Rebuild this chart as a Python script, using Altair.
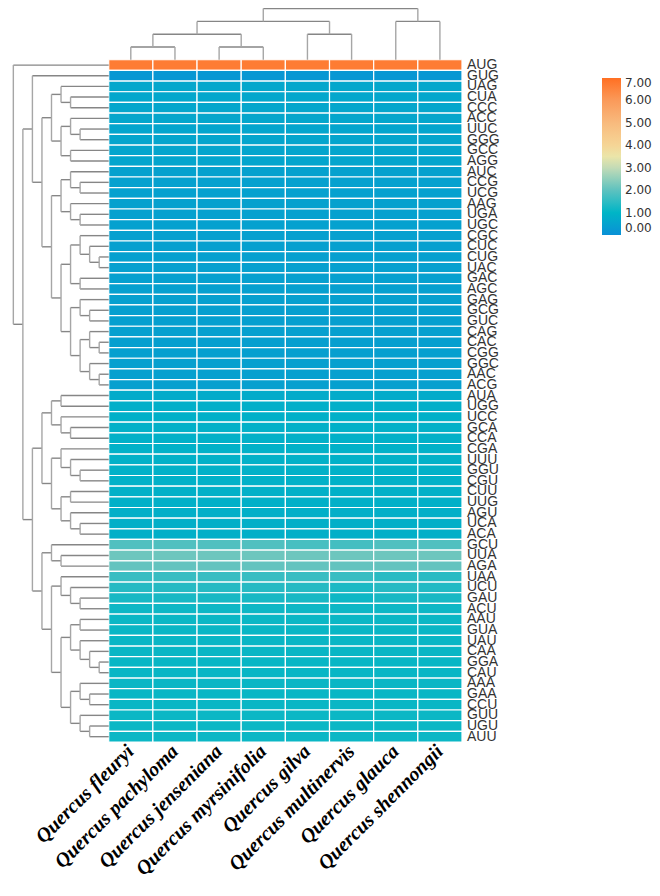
import altair as alt
import pandas as pd

# ---------------- data ----------------
species = ["Quercus fleuryi", "Quercus pachyloma", "Quercus  jenseniana",
           "Quercus myrsinifolia", "Quercus gilva", "Quercus multinervis",
           "Quercus glauca", "Quercus shennongii"]

codons = ["AUG", "GUG", "UAG", "CUA", "CCC", "ACC", "UUC", "GGG", "GCC", "AGG",
          "AUC", "CCG", "UCG", "AAG", "UGA", "UGC", "CGC", "CUC", "CUG", "UAC",
          "GAC", "AGC", "GAG", "GCG", "GUC", "CAG", "CAC", "CGG", "GGC", "AAC",
          "ACG", "AUA", "UGG", "UCC", "GCA", "CCA", "CGA", "UUU", "GGU", "CGU",
          "CUU", "UUG", "AGU", "UCA", "ACA", "GCU", "UUA", "AGA", "UAA", "UCU",
          "GAU", "ACU", "AAU", "GUA", "UAU", "CAA", "GGA", "CAU", "AAA", "GAA",
          "CCU", "GUU", "UGU", "AUU"]

# RSCU-like values, one list of 8 species per codon (row order as above)
values = [
    [6.70, 6.70, 6.70, 6.70, 6.70, 6.70, 6.70, 6.70],  # AUG
    [0.20, 0.20, 0.20, 0.20, 0.20, 0.20, 0.20, 0.20],  # GUG
    [0.62, 0.62, 0.62, 0.62, 0.62, 0.62, 0.62, 0.62],  # UAG
    [0.62, 0.62, 0.62, 0.62, 0.62, 0.62, 0.62, 0.62],  # CUA
    [0.60, 0.60, 0.60, 0.60, 0.60, 0.60, 0.60, 0.60],  # CCC
    [0.60, 0.60, 0.60, 0.60, 0.60, 0.60, 0.60, 0.60],  # ACC
    [0.58, 0.58, 0.58, 0.58, 0.58, 0.58, 0.58, 0.58],  # UUC
    [0.58, 0.58, 0.58, 0.58, 0.58, 0.58, 0.58, 0.58],  # GGG
    [0.56, 0.56, 0.56, 0.56, 0.56, 0.56, 0.56, 0.56],  # GCC
    [0.56, 0.56, 0.56, 0.56, 0.56, 0.56, 0.56, 0.56],  # AGG
    [0.47, 0.47, 0.47, 0.47, 0.47, 0.47, 0.47, 0.47],  # AUC
    [0.46, 0.46, 0.46, 0.46, 0.46, 0.46, 0.46, 0.46],  # CCG
    [0.46, 0.46, 0.46, 0.46, 0.46, 0.46, 0.46, 0.46],  # UCG
    [0.47, 0.47, 0.47, 0.47, 0.47, 0.47, 0.47, 0.47],  # AAG
    [0.46, 0.46, 0.46, 0.46, 0.46, 0.46, 0.46, 0.46],  # UGA
    [0.46, 0.46, 0.46, 0.46, 0.46, 0.46, 0.46, 0.46],  # UGC
    [0.44, 0.44, 0.44, 0.44, 0.44, 0.44, 0.44, 0.44],  # CGC
    [0.43, 0.43, 0.43, 0.43, 0.43, 0.43, 0.43, 0.43],  # CUC
    [0.42, 0.42, 0.42, 0.42, 0.42, 0.42, 0.42, 0.42],  # CUG
    [0.42, 0.42, 0.42, 0.42, 0.42, 0.42, 0.42, 0.42],  # UAC
    [0.43, 0.43, 0.43, 0.43, 0.43, 0.43, 0.43, 0.43],  # GAC
    [0.43, 0.43, 0.43, 0.43, 0.43, 0.43, 0.43, 0.43],  # AGC
    [0.42, 0.42, 0.42, 0.42, 0.42, 0.42, 0.42, 0.42],  # GAG
    [0.41, 0.41, 0.41, 0.41, 0.41, 0.41, 0.41, 0.41],  # GCG
    [0.41, 0.41, 0.41, 0.41, 0.41, 0.41, 0.41, 0.41],  # GUC
    [0.42, 0.42, 0.42, 0.42, 0.42, 0.42, 0.42, 0.42],  # CAG
    [0.41, 0.41, 0.41, 0.41, 0.41, 0.41, 0.41, 0.41],  # CAC
    [0.41, 0.41, 0.41, 0.41, 0.41, 0.41, 0.41, 0.41],  # CGG
    [0.42, 0.42, 0.42, 0.42, 0.42, 0.42, 0.42, 0.42],  # GGC
    [0.42, 0.42, 0.42, 0.42, 0.42, 0.42, 0.42, 0.42],  # AAC
    [0.42, 0.42, 0.42, 0.42, 0.42, 0.42, 0.42, 0.42],  # ACG
    [0.74, 0.74, 0.74, 0.74, 0.74, 0.74, 0.74, 0.74],  # AUA
    [0.84, 0.84, 0.84, 0.84, 0.84, 0.84, 0.84, 0.84],  # UGG
    [0.86, 0.86, 0.86, 0.86, 0.86, 0.86, 0.86, 0.86],  # UCC
    [0.87, 0.87, 0.87, 0.87, 0.87, 0.87, 0.87, 0.87],  # GCA
    [0.87, 0.87, 0.87, 0.87, 0.87, 0.87, 0.87, 0.87],  # CCA
    [0.88, 0.88, 0.88, 0.88, 0.88, 0.88, 0.88, 0.88],  # CGA
    [0.90, 0.90, 0.90, 0.90, 0.90, 0.90, 0.90, 0.90],  # UUU
    [0.88, 0.88, 0.88, 0.88, 0.88, 0.88, 0.88, 0.88],  # GGU
    [0.88, 0.88, 0.88, 0.88, 0.88, 0.88, 0.88, 0.88],  # CGU
    [0.86, 0.86, 0.86, 0.86, 0.86, 0.86, 0.86, 0.86],  # CUU
    [0.86, 0.86, 0.86, 0.86, 0.86, 0.86, 0.86, 0.86],  # UUG
    [0.85, 0.85, 0.85, 0.85, 0.85, 0.85, 0.85, 0.85],  # AGU
    [0.85, 0.85, 0.85, 0.85, 0.85, 0.85, 0.85, 0.85],  # UCA
    [0.85, 0.85, 0.85, 0.85, 0.85, 0.85, 0.85, 0.85],  # ACA
    [1.85, 1.85, 1.85, 1.85, 1.75, 1.72, 1.85, 1.85],  # GCU
    [2.15, 2.15, 2.15, 2.15, 2.15, 2.15, 2.15, 2.15],  # UUA
    [2.05, 2.05, 2.05, 2.05, 2.05, 2.05, 2.05, 2.05],  # AGA
    [1.60, 1.60, 1.60, 1.60, 1.60, 1.60, 1.45, 1.45],  # UAA
    [1.40, 1.40, 1.40, 1.40, 1.40, 1.30, 1.40, 1.35],  # UCU
    [1.25, 1.25, 1.25, 1.25, 1.25, 1.15, 1.25, 1.25],  # GAU
    [1.15, 1.15, 1.15, 1.15, 1.15, 1.15, 1.15, 1.15],  # ACU
    [1.12, 1.12, 1.12, 1.12, 1.12, 1.12, 1.12, 1.12],  # AAU
    [1.10, 1.10, 1.10, 1.10, 1.10, 1.10, 1.10, 1.10],  # GUA
    [1.10, 1.10, 1.10, 1.10, 1.10, 1.10, 1.10, 1.10],  # UAU
    [1.08, 1.08, 1.08, 1.08, 1.08, 1.08, 1.08, 1.08],  # CAA
    [1.08, 1.08, 1.08, 1.08, 1.08, 1.08, 1.08, 1.08],  # GGA
    [1.08, 1.08, 1.08, 1.08, 1.08, 1.08, 1.08, 1.08],  # CAU
    [1.10, 1.10, 1.10, 1.10, 1.10, 1.10, 1.10, 1.10],  # AAA
    [1.10, 1.10, 1.10, 1.10, 1.10, 1.10, 1.10, 1.10],  # GAA
    [1.10, 1.10, 1.10, 1.10, 1.10, 1.10, 1.10, 1.10],  # CCU
    [1.12, 1.12, 1.12, 1.12, 1.12, 1.12, 1.12, 1.12],  # GUU
    [1.12, 1.12, 1.12, 1.12, 1.12, 1.12, 1.12, 1.12],  # UGU
    [1.12, 1.12, 1.12, 1.12, 1.12, 1.12, 1.12, 1.12],  # AUU
]

# clustering trees (topology)
row_tree = ["AUG", [
    ["GUG", [
        [["UAG", ["CUA", "CCC"]], [["ACC", ["UUC", "GGG"]], ["GCC", "AGG"]]],
        [[["AUC", ["CCG", "UCG"]], ["AAG", ["UGA", "UGC"]]],
         [[["CGC", ["CUC", ["CUG", "UAC"]]], ["GAC", "AGC"]],
          [["GAG", ["GCG", "GUC"]],
           [["CAG", ["CAC", "CGG"]], ["GGC", ["AAC", "ACG"]]]]]]]],
    [[[["AUA", "UGG"], ["UCC", ["GCA", "CCA"]]],
      [["CGA", ["UUU", ["GGU", "CGU"]]], [["CUU", "UUG"], ["AGU", ["UCA", "ACA"]]]]],
     [["GCU", ["UUA", "AGA"]],
      [["UAA", ["UCU", ["GAU", "ACU"]]],
       [[["AAU", "GUA"], ["UAU", ["CAA", ["GGA", "CAU"]]]],
        [["AAA", ["GAA", "CCU"]], ["GUU", ["UGU", "AUU"]]]]]]]]]

col_tree = [[[[species[0], species[1]], [species[2], species[3]]],
             [species[4], species[5]]],
            [species[6], species[7]]]

# ---------------- layout constants ----------------
CW = 44.16          # px per column
RH = 10.66          # px per row
W = 452
H = 734
XMIN = 8 - W / CW
YMIN = 64 - H / RH
ROW_LEVELS = 10
COL_LEVELS = 4
ROW_STEP = 2.16 / ROW_LEVELS
COL_STEP = 4.8 / COL_LEVELS


def build(node, depth, leafpos, level, leaf_level, segs):
    if isinstance(node, str):
        return leafpos(node)
    ps = []
    for ch in node:
        ps.append((build(ch, depth + 1, leafpos, level, leaf_level, segs), ch))
    h = level(depth)
    for p, ch in ps:
        hc = leaf_level if isinstance(ch, str) else level(depth + 1)
        segs.append(dict(h=h, h2=hc, p=p, p2=p, kind="branch"))
    segs.append(dict(h=h, h2=h, p=ps[0][0], p2=ps[-1][0], kind="join"))
    return (ps[0][0] + ps[-1][0]) / 2


row_segs = []
build(row_tree, 0, lambda c: codons.index(c) + 0.5,
      lambda d: -(ROW_LEVELS - d) * ROW_STEP, 0.0, row_segs)
col_segs = []
build(col_tree, 0, lambda s: species.index(s) + 0.5,
      lambda d: -(COL_LEVELS - d) * COL_STEP, 0.0, col_segs)

seg_rows = []
for s in row_segs:
    seg_rows.append(dict(x=s["h"], x2=s["h2"], y=s["p"], y2=s["p2"],
                         kind="h" if s["kind"] == "branch" else "v"))
for s in col_segs:
    seg_rows.append(dict(x=s["p"], x2=s["p2"], y=s["h"], y2=s["h2"],
                         kind="v" if s["kind"] == "branch" else "h"))
segs_df = pd.DataFrame(seg_rows)

cells = []
for i, cod in enumerate(codons):
    for j, sp in enumerate(species):
        cells.append(dict(codon=cod, species=sp, r=i, c=j, value=values[i][j]))
cells_df = pd.DataFrame(cells)
rows_df = pd.DataFrame(dict(codon=codons, r=list(range(len(codons)))))
cols_df = pd.DataFrame(dict(species=species, c=list(range(len(species)))))

xscale = alt.Scale(domain=[XMIN, 8], nice=False, zero=False)
yscale = alt.Scale(domain=[YMIN, 64], nice=False, zero=False, reverse=True)

color_scale = alt.Scale(
    domain=[0, 1, 2, 3, 3.5, 4, 5, 6, 7],
    range=["#0a90d6", "#00b5c6", "#5ec2bf", "#c3dbb6", "#ebe5a9",
           "#f5d596", "#f8ba7d", "#fa9a5a", "#ff6f22"],
    interpolate="rgb")

heat = alt.Chart(cells_df).transform_calculate(
    c2="datum.c + 1", r2="datum.r + 1"
).mark_rect(stroke="white", strokeWidth=1.2).encode(
    x=alt.X("c:Q", scale=xscale, axis=None),
    x2="c2:Q",
    y=alt.Y("r:Q", scale=yscale, axis=None),
    y2="r2:Q",
    color=alt.Color("value:Q", scale=color_scale,
                    legend=alt.Legend(orient="none", legendX=592, legendY=70,
                                      direction="vertical", gradientLength=157,
                                      gradientThickness=19,
                                      values=[0, 1, 2, 3, 4, 5, 6, 7],
                                      format=".2f", title=None,
                                      labelFont="DejaVu Sans", labelFontSize=12,
                                      labelColor="#333333", labelOffset=4,
                                      labelOverlap=False, padding=0)),
)


def seg_layer(kind, col):
    return alt.Chart(segs_df).transform_filter(
        alt.datum.kind == kind
    ).mark_rule(color=col, strokeWidth=1.4).encode(
        x=alt.X("x:Q", scale=xscale, axis=None), x2="x2:Q",
        y=alt.Y("y:Q", scale=yscale, axis=None), y2="y2:Q")


hseg = seg_layer("h", "#868686")
vseg = seg_layer("v", "#a6a6a6")

row_labels = alt.Chart(rows_df).transform_calculate(
    rc="datum.r + 0.5", lx="8"
).mark_text(align="left", baseline="middle", font="Liberation Sans",
            fontSize=14, color="#333333", dx=5).encode(
    x=alt.X("lx:Q", scale=xscale, axis=None),
    y=alt.Y("rc:Q", scale=yscale, axis=None),
    text="codon:N")

col_labels = alt.Chart(cols_df).transform_calculate(
    cc="datum.c + 0.5", ly="64.6"
).mark_text(align="right", baseline="middle", font="Liberation Serif",
            fontSize=20, fontStyle="italic", fontWeight="bold",
            color="#000000", angle=315).encode(
    x=alt.X("cc:Q", scale=xscale, axis=None),
    y=alt.Y("ly:Q", scale=yscale, axis=None),
    text="species:N")

chart = alt.layer(heat, hseg, vseg, row_labels, col_labels).properties(
    width=W, height=H,
    padding={"left": 2, "top": 0, "right": 190, "bottom": 140},
    autosize=alt.AutoSizeParams(type="none"),
    background="white",
).configure_view(stroke=None)

chart.save("out.html", embed_options={"renderer": "svg", "actions": False})
